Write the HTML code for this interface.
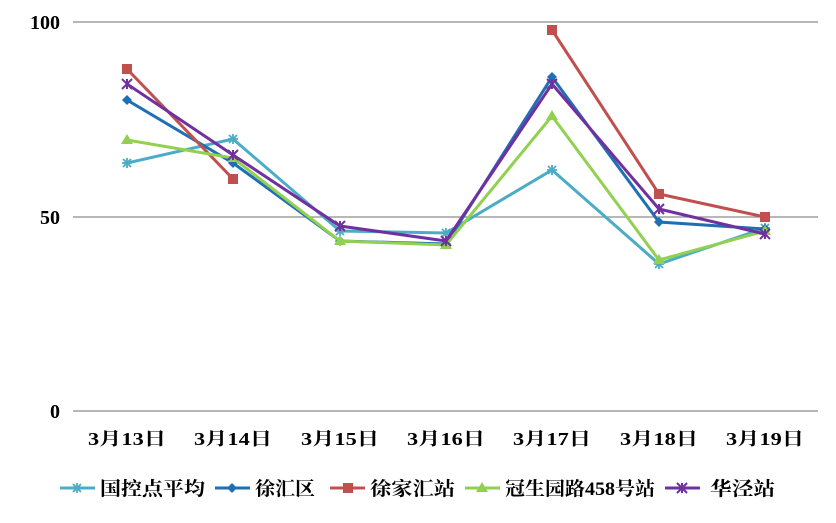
<!DOCTYPE html>
<html><head><meta charset="utf-8"><style>
html,body{margin:0;padding:0;background:#fff}
svg text{font-family:"Liberation Serif","Noto Serif CJK SC","Noto Sans CJK SC",serif;font-weight:bold}
</style></head><body>
<svg width="836" height="518" viewBox="0 0 836 518" xmlns="http://www.w3.org/2000/svg">
<defs>
<g id="ast"><path d="M-5,0H5M0,-5V5M-4,-4L4,4M-4,4L4,-4" stroke-width="1.8"/></g>
<g id="xs"><path d="M-5,-5L5,5M-5,5L5,-5M0,-5V5" stroke-width="2"/></g>
</defs>
<g stroke="#8c8c8c" stroke-width="1.3">
<line x1="73" y1="22" x2="818" y2="22"/>
<line x1="73" y1="217" x2="818" y2="217"/>
<line x1="73" y1="411" x2="818" y2="411"/>
</g>
<g font-size="20" fill="#000" text-anchor="end">
<text x="60" y="29">100</text>
<text x="60" y="224">50</text>
<text x="60" y="418">0</text>
</g>
<g font-size="18" fill="#000" text-anchor="middle" font-family="Liberation Serif, Noto Sans CJK SC, sans-serif">
<text x="127" y="445" textLength="78" lengthAdjust="spacingAndGlyphs">3月13日</text>
<text x="233" y="445" textLength="78" lengthAdjust="spacingAndGlyphs">3月14日</text>
<text x="340" y="445" textLength="78" lengthAdjust="spacingAndGlyphs">3月15日</text>
<text x="446" y="445" textLength="78" lengthAdjust="spacingAndGlyphs">3月16日</text>
<text x="552" y="445" textLength="78" lengthAdjust="spacingAndGlyphs">3月17日</text>
<text x="659" y="445" textLength="78" lengthAdjust="spacingAndGlyphs">3月18日</text>
<text x="765" y="445" textLength="78" lengthAdjust="spacingAndGlyphs">3月19日</text>
</g>
<polyline fill="none" stroke="#4BACC6" stroke-width="3" points="127,163 233,139 340,231 446,233 552,170 659,264 765,228"/>
<g stroke="#4BACC6">
<use href="#ast" x="127" y="163"/><use href="#ast" x="233" y="139"/><use href="#ast" x="340" y="231"/><use href="#ast" x="446" y="233"/><use href="#ast" x="552" y="170"/><use href="#ast" x="659" y="264"/><use href="#ast" x="765" y="228"/>
</g>
<polyline fill="none" stroke="#1F6FB5" stroke-width="3" points="127,100 233,163 340,241 446,244 552,77 659,222 765,229"/>
<g fill="#1F6FB5">
<path d="M127,95l5,5l-5,5l-5,-5z"/><path d="M233,158l5,5l-5,5l-5,-5z"/><path d="M340,236l5,5l-5,5l-5,-5z"/><path d="M446,239l5,5l-5,5l-5,-5z"/><path d="M552,72l5,5l-5,5l-5,-5z"/><path d="M659,217l5,5l-5,5l-5,-5z"/><path d="M765,224l5,5l-5,5l-5,-5z"/>
</g>
<polyline fill="none" stroke="#C0504D" stroke-width="3" points="127,69 233,179"/>
<polyline fill="none" stroke="#C0504D" stroke-width="3" points="552,30 659,194 765,217"/>
<g fill="#C0504D">
<rect x="122" y="64" width="10" height="10"/><rect x="228" y="174" width="10" height="10"/><rect x="547" y="25" width="10" height="10"/><rect x="654" y="189" width="10" height="10"/><rect x="760" y="212" width="10" height="10"/>
</g>
<polyline fill="none" stroke="#92D050" stroke-width="3" points="127,140 233,158 340,241 446,245 552,116 659,260 765,231"/>
<g fill="#92D050">
<path d="M127,134l6,10h-12z"/><path d="M233,152l6,10h-12z"/><path d="M340,235l6,10h-12z"/><path d="M446,239l6,10h-12z"/><path d="M552,110l6,10h-12z"/><path d="M659,254l6,10h-12z"/><path d="M765,225l6,10h-12z"/>
</g>
<polyline fill="none" stroke="#7030A0" stroke-width="3" points="127,84 233,155 340,226 446,241 552,84 659,209 765,234"/>
<g stroke="#7030A0">
<use href="#xs" x="127" y="84"/><use href="#xs" x="233" y="155"/><use href="#xs" x="340" y="226"/><use href="#xs" x="446" y="241"/><use href="#xs" x="552" y="84"/><use href="#xs" x="659" y="209"/><use href="#xs" x="765" y="234"/>
</g>
<g stroke-width="3">
<line x1="60" y1="488" x2="95" y2="488" stroke="#4BACC6"/>
<line x1="215" y1="488" x2="250" y2="488" stroke="#1F6FB5"/>
<line x1="330" y1="488" x2="365" y2="488" stroke="#C0504D"/>
<line x1="465" y1="488" x2="500" y2="488" stroke="#92D050"/>
<line x1="665" y1="488" x2="700" y2="488" stroke="#7030A0"/>
</g>
<use href="#ast" x="77" y="488" stroke="#4BACC6"/>
<path d="M232,483l5,5l-5,5l-5,-5z" fill="#1F6FB5"/>
<rect x="343" y="483" width="10" height="10" fill="#C0504D"/>
<path d="M482,482l6,10h-12z" fill="#92D050"/>
<use href="#xs" x="682" y="488" stroke="#7030A0"/>
<g font-size="19" fill="#000" font-family="Liberation Serif, Noto Sans CJK SC, sans-serif">
<text x="100" y="495" textLength="105" lengthAdjust="spacingAndGlyphs">国控点平均</text>
<text x="255" y="495" textLength="60" lengthAdjust="spacingAndGlyphs">徐汇区</text>
<text x="370" y="495" textLength="85" lengthAdjust="spacingAndGlyphs">徐家汇站</text>
<text x="505" y="495" textLength="150" lengthAdjust="spacingAndGlyphs">冠生园路458号站</text>
<text x="710" y="495" textLength="65" lengthAdjust="spacingAndGlyphs">华泾站</text>
</g>
</svg>
</body></html>
